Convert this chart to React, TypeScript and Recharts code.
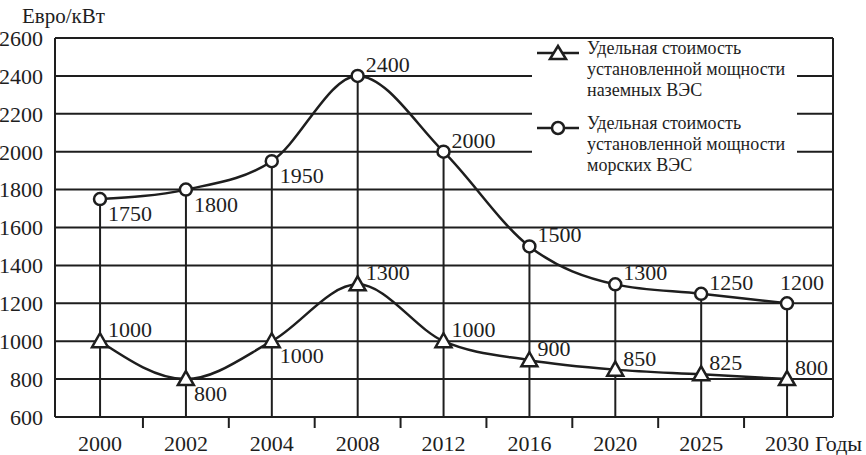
import React from "react";
import { ComposedChart, Line, Bar, XAxis, YAxis, CartesianGrid, Legend, LabelList } from "recharts";

// годы (категории оси X)
const years = ["2000", "2002", "2004", "2008", "2012", "2016", "2020", "2025", "2030"];
// евро/кВт, морские ВЭС (кружки)
const seaCost = [1750, 1800, 1950, 2400, 2000, 1500, 1300, 1250, 1200];
// евро/кВт, наземные ВЭС (треугольники)
const landCost = [1000, 800, 1000, 1300, 1000, 900, 850, 825, 800];
const yTicks = [600, 800, 1000, 1200, 1400, 1600, 1800, 2000, 2200, 2400, 2600];

const landLegend = ["Удельная стоимость", "установленной мощности", "наземных ВЭС"];
const seaLegend = ["Удельная стоимость", "установленной мощности", "морских ВЭС"];

// где ставить подписи значений относительно точки
const seaLabelPos = ["below", "below", "below", "above", "above", "above", "above", "above", "top"];
const landLabelPos = ["above", "below", "below", "above", "above", "above", "above", "above", "above"];

const data = years.map((year, i) => ({ i, year, sea: seaCost[i], land: landCost[i] }));
const xTicks = years.flatMap((_, i) => (i === 0 ? [0] : [i - 0.5, i]));

const INK = "#1e1e1e";
const FONT = "Liberation Serif, Tinos, DejaVu Serif, Noto Serif, FreeSerif, Nimbus Roman, Times, serif";

function YearTick(props: any) {
  const { x, y, payload } = props;
  const v = payload.value;
  if (Number.isInteger(v)) {
    return (
      <text x={x} y={y + 34} textAnchor="middle" fontSize={22} fontFamily={FONT} fill={INK}>
        {years[v]}
      </text>
    );
  }
  return <line x1={x} x2={x} y1={y} y2={y + 11} stroke={INK} strokeWidth={2} />;
}

function Triangle(props: any) {
  const { cx, cy } = props;
  if (cx == null || cy == null) return null;
  return (
    <polygon
      points={`${cx - 8},${cy + 6} ${cx + 8},${cy + 6} ${cx},${cy - 8}`}
      fill="#fff"
      stroke={INK}
      strokeWidth={2.5}
    />
  );
}

function Ring(props: any) {
  const { cx, cy } = props;
  if (cx == null || cy == null) return null;
  return <circle cx={cx} cy={cy} r={6} fill="#fff" stroke={INK} strokeWidth={2.5} />;
}

const valueLabel = (pos: string[]) => (props: any) => {
  const { x, y, value, index } = props;
  const p = pos[index];
  let tx = x + 8;
  let ty = y - 4;
  if (p === "below") ty = y + 22;
  if (p === "top") {
    tx = x - 7;
    ty = y - 13;
  }
  return (
    <text x={tx} y={ty} fontSize={22} fontFamily={FONT} fill={INK} textAnchor="start">
      {value}
    </text>
  );
};

function LegendBox() {
  const entry = (lines: string[], top: number, marker: React.ReactNode) => (
    <div style={{ position: "absolute", left: 0, top, width: 265 }}>
      <svg width={46} height={20} style={{ position: "absolute", left: 3, top: -1 }}>
        <line x1={2} x2={44} y1={10} y2={10} stroke={INK} strokeWidth={2.5} />
        {marker}
      </svg>
      <div style={{ position: "absolute", left: 55, top: -6, lineHeight: "21px", whiteSpace: "nowrap" }}>
        {lines.map((l) => (
          <div key={l}>{l}</div>
        ))}
      </div>
    </div>
  );
  return (
    <div style={{ position: "relative", width: 265, height: 146, fontFamily: FONT, fontSize: 18, color: INK }}>
      {entry(
        landLegend,
        4,
        <polygon points="15,16 31,16 23,3" fill="#fff" stroke={INK} strokeWidth={2.5} />
      )}
      {entry(seaLegend, 79, <circle cx={23} cy={10} r={6} fill="#fff" stroke={INK} strokeWidth={2.5} />)}
    </div>
  );
}

export default function App() {
  return (
    <div style={{ position: "absolute", left: 0, top: 0, width: 866, height: 455, background: "#fff" }}>
      <ComposedChart width={866} height={455} data={data} margin={{ top: 38, right: 0, bottom: 0, left: 0 }}>
        <CartesianGrid horizontal vertical={false} stroke={INK} strokeWidth={2} />
        <XAxis
          type="number"
          dataKey="i"
          domain={[0, 8]}
          ticks={xTicks}
          interval={0}
          tick={<YearTick />}
          tickLine={false}
          tickSize={0}
          tickMargin={0}
          height={38}
          padding={{ left: 45, right: 46 }}
          axisLine={{ stroke: INK, strokeWidth: 2 }}
          label={{ value: "Годы", position: "right", dx: -23, dy: 7, fontSize: 22, fontFamily: FONT, fill: INK }}
        />
        <YAxis
          domain={[600, 2600]}
          ticks={yTicks}
          interval={0}
          width={55}
          tickLine={false}
          tickSize={0}
          tickMargin={12}
          tick={{ fontSize: 22, fontFamily: FONT, fill: INK }}
          axisLine={{ stroke: INK, strokeWidth: 2 }}
          label={{ value: "Евро/кВт", position: "top", dx: 36, dy: -10, fontSize: 21, fontFamily: FONT, fill: INK }}
        />
        <YAxis
          yAxisId="right"
          orientation="right"
          domain={[600, 2600]}
          width={33}
          tick={false}
          tickLine={false}
          axisLine={{ stroke: INK, strokeWidth: 2 }}
        />
        <Legend
          layout="vertical"
          align="center"
          verticalAlign="middle"
          width={265}
          height={146}
          wrapperStyle={{ left: 532, top: 40, background: "#fff" }}
          content={() => <LegendBox />}
        />
        {/* вертикали от точек морских ВЭС до оси */}
        <Bar dataKey="sea" barSize={2} fill={INK} isAnimationActive={false} />
        <Line
          type="monotone"
          dataKey="land"
          stroke={INK}
          strokeWidth={2.5}
          dot={<Triangle />}
          activeDot={false}
          isAnimationActive={false}
        >
          <LabelList dataKey="land" content={valueLabel(landLabelPos)} />
        </Line>
        <Line
          type="monotone"
          dataKey="sea"
          stroke={INK}
          strokeWidth={2.5}
          dot={<Ring />}
          activeDot={false}
          isAnimationActive={false}
        >
          <LabelList dataKey="sea" content={valueLabel(seaLabelPos)} />
        </Line>
      </ComposedChart>
    </div>
  );
}
